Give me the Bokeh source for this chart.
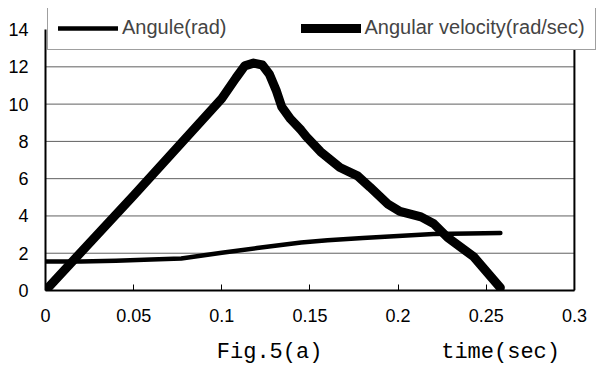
from bokeh.plotting import figure
from bokeh.models import Range1d, FixedTicker, Legend, LegendItem
from bokeh.embed import file_html
from bokeh.resources import INLINE

# data
angle_t = [0.0, 0.02, 0.04, 0.06, 0.077, 0.10, 0.12, 0.145, 0.16, 0.18, 0.20, 0.22, 0.24, 0.258]
angle_v = [1.55, 1.56, 1.60, 1.66, 1.72, 2.02, 2.28, 2.57, 2.70, 2.82, 2.93, 3.03, 3.06, 3.08]

vel_t = [0.0, 0.05, 0.100, 0.108, 0.113, 0.118, 0.123, 0.127, 0.131, 0.134, 0.139,
         0.145, 0.148, 0.156, 0.167, 0.177, 0.184, 0.194, 0.201, 0.213, 0.220,
         0.228, 0.243, 0.258]
vel_v = [0.0, 5.1, 10.3, 11.4, 12.05, 12.2, 12.1, 11.6, 10.7, 9.85, 9.2,
         8.6, 8.25, 7.45, 6.6, 6.15, 5.55, 4.65, 4.25, 3.95, 3.6,
         2.85, 1.8, 0.15]

x_ticks = [0, 0.05, 0.1, 0.15, 0.2, 0.25, 0.3]
x_tick_labels = ["0", "0.05", "0.1", "0.15", "0.2", "0.25", "0.3"]
y_ticks = [0, 2, 4, 6, 8, 10, 12, 14]

series_names = ["Angule(rad)", "Angular velocity(rad/sec)"]
fig_caption = "Fig.5(a)"
x_title = "time(sec)"

FONT = "Liberation Sans"
NB = "\u00a0"

x_min, x_max = x_ticks[0], x_ticks[-1]
y_min, y_max = y_ticks[0], y_ticks[-1]

# the frame is extended beyond the axes so that the legend (which overlaps
# the top of the plot and sticks out to the right) is not clipped
p = figure(width=612, height=376, output_backend="svg", toolbar_location=None,
           x_range=Range1d(x_min, 0.3216), y_range=Range1d(y_min, 15.13),
           min_border_left=45, min_border_right=0, min_border_top=8, min_border_bottom=86)

p.background_fill_color = "white"
p.border_fill_color = "white"
p.outline_line_color = None

p.xgrid.grid_line_color = None
p.ygrid.grid_line_color = None

p.xaxis.ticker = FixedTicker(ticks=x_ticks)
p.xaxis.major_label_overrides = {t: l for t, l in zip(x_ticks, x_tick_labels)}
p.yaxis.ticker = FixedTicker(ticks=y_ticks)
p.xaxis.bounds = (x_min, x_max)
p.yaxis.bounds = (y_min, y_max)

for ax in (p.xaxis[0], p.yaxis[0]):
    ax.axis_line_color = "black"
    ax.axis_line_width = 2
    ax.major_tick_line_color = "black"
    ax.minor_tick_line_color = None
    ax.major_label_text_font = FONT
    ax.major_label_text_font_size = "18px"
    ax.major_label_text_color = "black"

p.xaxis.major_tick_in = 6
p.xaxis.major_tick_out = 0
p.xaxis.major_label_standoff = 18
p.yaxis.major_tick_in = 0
p.yaxis.major_tick_out = 0
p.yaxis.major_label_standoff = 17

# bottom caption and axis title share the x-axis label line
p.xaxis.axis_label = NB * 9 + fig_caption + NB * 9 + x_title
p.xaxis.axis_label_text_font = "Liberation Mono"
p.xaxis.axis_label_text_font_size = "22px"
p.xaxis.axis_label_text_font_style = "normal"
p.xaxis.axis_label_text_color = "black"
p.xaxis.axis_label_standoff = 15

# horizontal gridlines (inner ticks) and right border of the plot area
grid_y = y_ticks[1:-1]
p.segment(x0=[x_min] * len(grid_y), x1=[x_max] * len(grid_y), y0=grid_y, y1=grid_y,
          line_color="#606060", line_width=1)
p.segment(x0=[x_max], x1=[x_max], y0=[y_min], y1=[y_max], line_color="black", line_width=2)

r1 = p.line(angle_t, angle_v, line_color="black", line_width=4.5,
            line_join="round", line_cap="round")
r2 = p.line(vel_t, vel_v, line_color="black", line_width=9,
            line_join="round", line_cap="round")

legend = Legend(items=[LegendItem(label=series_names[0], renderers=[r1]),
                       LegendItem(label=series_names[1], renderers=[r2])],
                orientation="horizontal", location=(2, 240))
legend.label_text_font = FONT
legend.label_text_font_size = "20px"
legend.glyph_width = 60
legend.glyph_height = 20
legend.label_standoff = 4
legend.spacing = 74
legend.padding = 10
legend.margin = 0
legend.border_line_color = "#404040"
legend.border_line_width = 1
legend.background_fill_color = "white"
legend.background_fill_alpha = 1
p.add_layout(legend, "center")

open("out.html", "w").write(file_html(p, INLINE))
